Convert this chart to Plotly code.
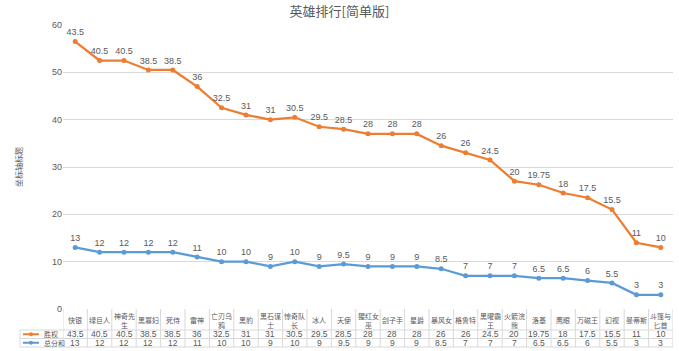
import plotly.graph_objects as go

categories = ["快银", "绿巨人", "神奇先生", "黑寡妇", "死侍", "雷神", "亡刃乌鸦", "黑豹", "黑石谋士",
              "惊奇队长", "冰人", "天使", "猩红女巫", "刽子手", "星爵", "暴风女", "格鲁特", "黑曜霸王",
              "火箭浣熊", "洛基", "鹰眼", "万磁王", "幻视", "曼蒂斯", "斗篷与匕首"]
shengquan = [43.5, 40.5, 40.5, 38.5, 38.5, 36, 32.5, 31, 31, 30.5, 29.5, 28.5, 28, 28, 28, 26, 26,
             24.5, 20, 19.75, 18, 17.5, 15.5, 11, 10]
zongfenhe = [13, 12, 12, 12, 12, 11, 10, 10, 9, 10, 9, 9.5, 9, 9, 9, 8.5, 7, 7, 7, 6.5, 6.5, 6, 5.5, 3, 3]
series_names = ["胜权", "总分和"]
y_ticks = [0, 10, 20, 30, 40, 50, 60]

ORANGE = "#ED7D31"
BLUE = "#5B9BD5"
GRAY = "#595959"
GRID = "#D9D9D9"
W, H = 679, 351
L, R, T, B = 63, 6, 25, 42
PW = W - L - R
PH = H - T - B
NUM_FONT = "Liberation Sans, Arial, sans-serif"
CJK_FONT = "Noto Sans CJK SC, sans-serif"


def fmt(v):
    return f"{v:g}"


def py(p):
    return (H - B - p) / PH


def pxx(p):
    return (p - L) / PW


stacked = [a + b for a, b in zip(shengquan, zongfenhe)]
n = len(categories)
xs = list(range(n))

fig = go.Figure()
fig.add_trace(go.Scatter(
    x=xs, y=zongfenhe, mode="lines+markers+text", name=series_names[1],
    line=dict(color=BLUE, width=2.25), marker=dict(color=BLUE, size=5),
    text=[fmt(v) for v in zongfenhe], textposition="top center",
    textfont=dict(size=9, color=GRAY, family=NUM_FONT), cliponaxis=False))
fig.add_trace(go.Scatter(
    x=xs, y=stacked, mode="lines+markers+text", name=series_names[0],
    line=dict(color=ORANGE, width=2.25), marker=dict(color=ORANGE, size=5),
    text=[fmt(v) for v in shengquan], textposition="top center",
    textfont=dict(size=9, color=GRAY, family=NUM_FONT), cliponaxis=False))

annotations = []
shapes = []

# table geometry (pixel rows)
y_top, y_hdr, y_r1, y_r2 = 309, 330, 338.5, 347
leg_left = 20

for yy in (y_hdr, y_r1, y_r2):
    shapes.append(dict(type="line", xref="paper", yref="paper", x0=pxx(leg_left), x1=1,
                       y0=py(yy), y1=py(yy), line=dict(color=GRID, width=1)))
for k in range(n + 1):
    shapes.append(dict(type="line", xref="x", yref="paper", x0=k - 0.5, x1=k - 0.5,
                       y0=py(y_top), y1=py(y_r2), line=dict(color=GRID, width=1)))
shapes.append(dict(type="line", xref="paper", yref="paper", x0=pxx(leg_left), x1=pxx(leg_left),
                   y0=py(y_hdr), y1=py(y_r2), line=dict(color=GRID, width=1)))

for i, c in enumerate(categories):
    label = c if len(c) <= 3 else c[:3] + "<br>" + c[3:]
    annotations.append(dict(x=i, y=py((y_top + y_hdr) / 2 + 0.5), xref="x", yref="paper", text=label,
                            showarrow=False, font=dict(size=7, color=GRAY, family=CJK_FONT),
                            xanchor="center", yanchor="middle"))
    annotations.append(dict(x=i, y=py((y_hdr + y_r1) / 2), xref="x", yref="paper", text=fmt(shengquan[i]),
                            showarrow=False, font=dict(size=8.5, color=GRAY, family=NUM_FONT),
                            xanchor="center", yanchor="middle"))
    annotations.append(dict(x=i, y=py((y_r1 + y_r2) / 2), xref="x", yref="paper", text=fmt(zongfenhe[i]),
                            showarrow=False, font=dict(size=8.5, color=GRAY, family=NUM_FONT),
                            xanchor="center", yanchor="middle"))

for name, color, (a, b) in [(series_names[0], ORANGE, (y_hdr, y_r1)), (series_names[1], BLUE, (y_r1, y_r2))]:
    yc = py((a + b) / 2)
    shapes.append(dict(type="line", xref="paper", yref="paper", x0=pxx(23), x1=pxx(39), y0=yc, y1=yc,
                       line=dict(color=color, width=2)))
    shapes.append(dict(type="circle", xref="paper", yref="paper", x0=pxx(29), x1=pxx(33),
                       y0=yc - 2 / PH, y1=yc + 2 / PH, fillcolor=color, line=dict(color=color, width=0)))
    annotations.append(dict(x=pxx(42), y=yc, xref="paper", yref="paper", text=name, showarrow=False,
                            font=dict(size=7, color=GRAY, family=CJK_FONT), xanchor="left", yanchor="middle"))

fig.update_layout(
    width=W, height=H, margin=dict(l=L, r=R, t=T, b=B),
    paper_bgcolor="white", plot_bgcolor="white", showlegend=False,
    title=dict(text="英雄排行[简单版]", x=0.5, xanchor="center", y=1 - 11 / H, yanchor="middle",
               font=dict(size=13, color=GRAY, family=CJK_FONT)),
    xaxis=dict(type="linear", range=[-0.5, n - 0.5], showticklabels=False, showgrid=False,
               zeroline=False, showline=False, ticks=""),
    yaxis=dict(range=[0, 60], tickvals=y_ticks, showgrid=True, gridcolor=GRID, gridwidth=1,
               zeroline=False, showline=False, ticks="",
               tickfont=dict(size=9, color=GRAY, family=NUM_FONT),
               title=dict(text="坐标轴标题", font=dict(size=8, color=GRAY, family=CJK_FONT), standoff=28)),
    annotations=annotations, shapes=shapes,
)

fig.write_html("out.html")
